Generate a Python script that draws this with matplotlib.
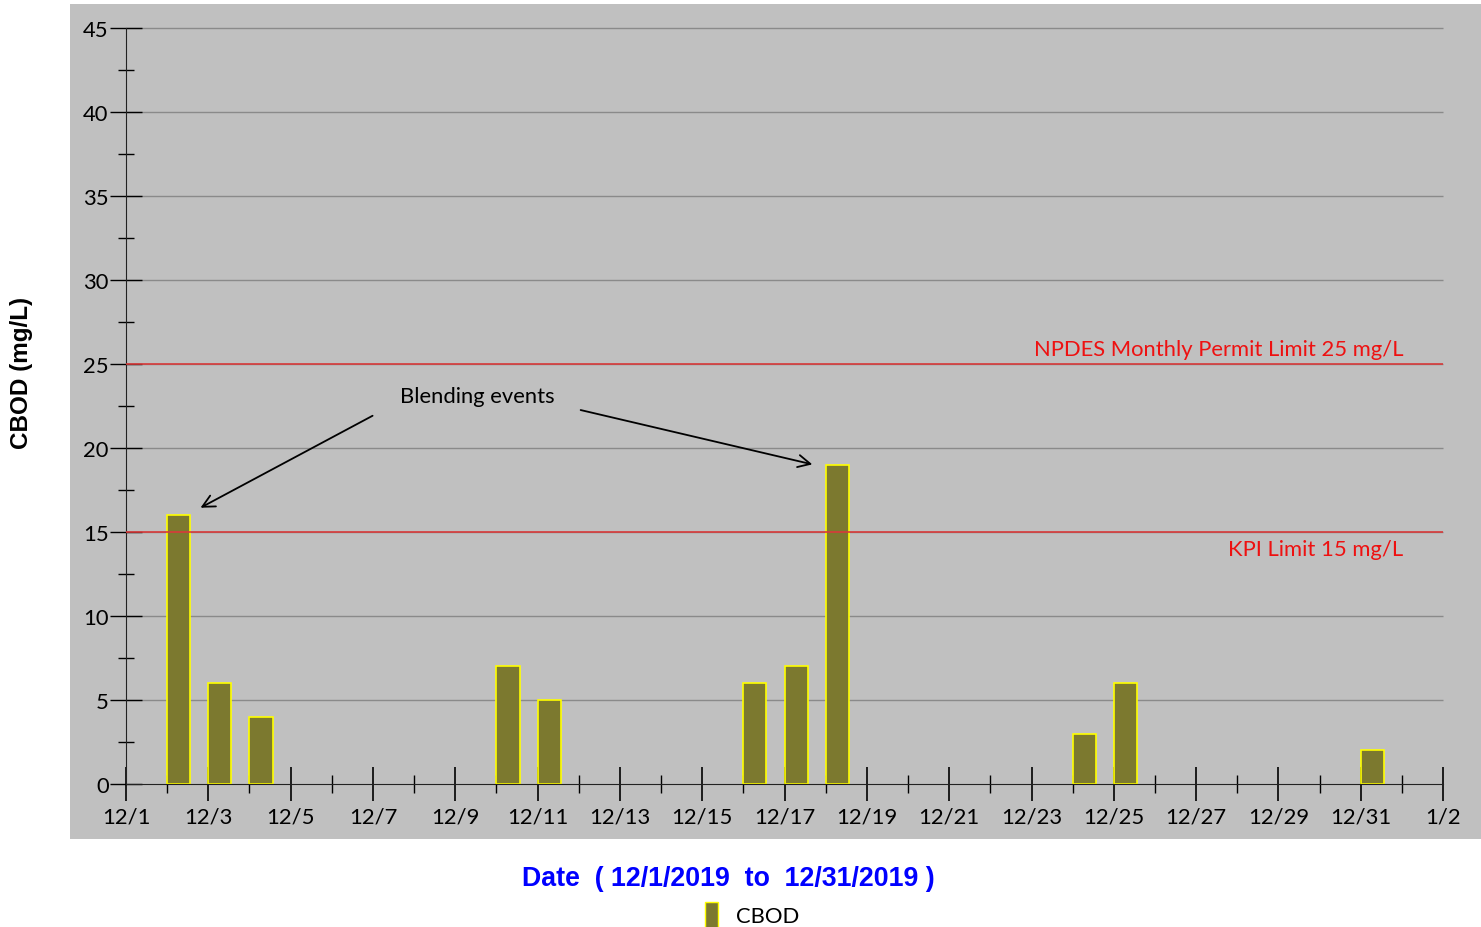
import matplotlib
matplotlib.use('Agg')
import matplotlib.pyplot as plt
from matplotlib.patches import Patch

plt.rcParams['font.family'] = ['Lato', 'DejaVu Sans']

# CBOD samples, December 2019 (day index 0 = 12/1)
days = [1, 2, 3, 9, 10, 15, 16, 17, 23, 24, 30]
cbod = [16, 6, 4, 7, 5, 6, 7, 19, 3, 6, 2]
tick_labels = ['12/1', '12/3', '12/5', '12/7', '12/9', '12/11', '12/13', '12/15', '12/17',
               '12/19', '12/21', '12/23', '12/25', '12/27', '12/29', '12/31', '1/2']
permit_limit = 25
kpi_limit = 15

bar_color = '#7c792f'

fig = plt.figure(figsize=(14.81, 9.28), dpi=100)
ax = fig.add_axes([70 / 1481, 88 / 928, 1411 / 1481, 835 / 928])
ax.set_facecolor('#c0c0c0')
ax.set_xlim(-1.361, 32.92)
ax.set_ylim(-3.27, 46.43)

for s in ['top', 'right']:
    ax.spines[s].set_visible(False)
ax.spines['left'].set_position(('data', 0))
ax.spines['bottom'].set_position(('data', 0))
ax.spines['left'].set_bounds(0, 45)
ax.spines['bottom'].set_bounds(0, 32)
ax.spines['left'].set_color('#222222')
ax.spines['bottom'].set_color('#222222')

# gridlines
yt = list(range(0, 46, 5))
ax.hlines(yt[1:], 0, 32, color='#8a8a8a', lw=1.0, zorder=1)

# limits
ax.hlines([permit_limit, kpi_limit], 0, 32, color='#d83a3a', lw=1.2, zorder=3)
ax.text(31.03, permit_limit + 0.3, f'NPDES Monthly Permit Limit {permit_limit} mg/L',
        color='#ee1111', fontsize=15.8, ha='right', va='bottom')
ax.text(31.03, kpi_limit - 0.4, f'KPI Limit {kpi_limit} mg/L',
        color='#ee1111', fontsize=15.8, ha='right', va='top')

ax.bar(days, cbod, width=0.56, align='edge', color=bar_color, edgecolor='#ffff00',
       lw=1.2, zorder=2)

ax.set_yticks(yt)
ax.set_yticks([v + 2.5 for v in yt[:-1]], minor=True)
ax.set_xticks(range(0, 33, 2))
ax.set_xticks(range(1, 33, 2), minor=True)
ax.set_xticklabels(tick_labels)
ax.tick_params(axis='y', which='major', direction='inout', length=23, width=1,
               labelsize=15.8, pad=1)
ax.tick_params(axis='y', which='minor', direction='inout', length=11.5, width=1)
ax.tick_params(axis='x', which='major', direction='inout', length=24, width=1.2,
               labelsize=15.8, pad=4)
ax.tick_params(axis='x', which='minor', direction='inout', length=13, width=1)

# annotation
ax.text(8.53, 23.1, 'Blending events', fontsize=15.8, ha='center', va='center')
arrow = dict(arrowstyle='->', color='black', lw=1.3, mutation_scale=22)
ax.annotate('', xy=(1.75, 16.37), xytext=(6.05, 22.0), arrowprops=arrow)
ax.annotate('', xy=(16.74, 18.99), xytext=(10.98, 22.3), arrowprops=arrow)

bold_font = ['Liberation Sans', 'DejaVu Sans']
fig.text(22 / 1481, 1 - 373 / 928, 'CBOD (mg/L)', rotation=90, fontsize=17.5,
         fontweight='bold', family=bold_font, ha='center', va='center')
fig.text(728 / 1481, 1 - 879 / 928, 'Date  ( 12/1/2019  to  12/31/2019 )', color='#0000ff',
         fontsize=19.3, fontweight='bold', family=bold_font, ha='center', va='center')
fig.legend(handles=[Patch(facecolor=bar_color, edgecolor='#ffff00', label='CBOD')],
           loc='center', bbox_to_anchor=(752 / 1481, 1 - 916 / 928), frameon=False,
           fontsize=15.8, handlelength=0.6, handleheight=1.4, handletextpad=0.8)

fig.savefig('out.png', dpi=100)
